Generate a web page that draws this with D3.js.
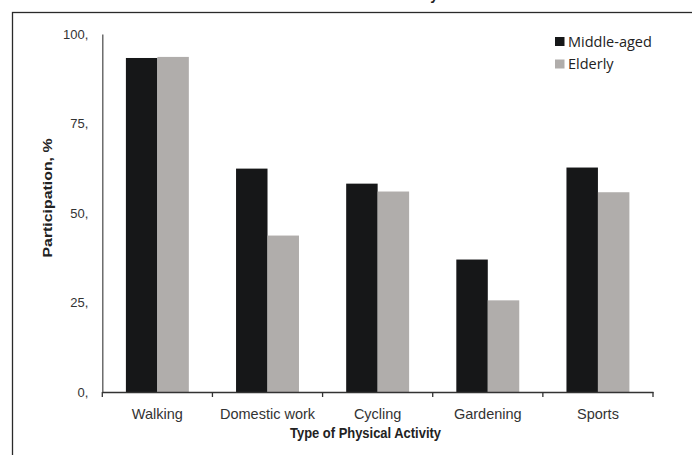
<!DOCTYPE html>
<html>
<head>
<meta charset="utf-8">
<script src="https://cdn.jsdelivr.net/npm/d3@7"></script>
<style>
  html, body { margin: 0; padding: 0; background: #fff; }
  svg { display: block; }
</style>
</head>
<body>
<script>
// Participation in physical activities by age group
const categories = ["Walking", "Domestic work", "Cycling", "Gardening", "Sports"];
const seriesNames = ["Middle-aged", "Elderly"];
const middleAged = [93.3, 62.4, 58.2, 37.0, 62.7];
const elderly = [93.6, 43.7, 56.0, 25.6, 55.8];
const yTicks = [0, 25, 50, 75, 100];
const yTickLabels = ["0,", "25,", "50,", "75,", "100,"];
const colors = ["#161718", "#b0adab"];

const W = 692, H = 455;
const svg = d3.select("body").append("svg").attr("width", W).attr("height", H);

// outer frame
svg.append("rect")
  .attr("x", 12.5).attr("y", 12.5)
  .attr("width", 800).attr("height", 600)
  .attr("fill", "none").attr("stroke", "#2a2a2a").attr("stroke-width", 1.3);

// heading partly above the frame
svg.append("text")
  .attr("x", 438).attr("y", 0)
  .attr("text-anchor", "end")
  .attr("font-family", "Liberation Sans, Arial, sans-serif")
  .attr("font-weight", "bold").attr("font-size", 14)
  .attr("fill", "#222")
  .text("Activity");

const plot = { left: 102.3, right: 653, top: 34, bottom: 392 };

const x0 = d3.scaleBand().domain(categories).range([plot.left, plot.right]).padding(0);
const x1 = d3.scaleBand().domain(seriesNames).range([0, x0.bandwidth()])
  .paddingInner(0).paddingOuter(0.75);
const y = d3.scaleLinear().domain([0, 100]).range([plot.bottom, plot.top]);

const data = categories.map((c, i) => ({ cat: c, vals: [middleAged[i], elderly[i]] }));

// bars
const groups = svg.append("g").selectAll("g").data(data).join("g")
  .attr("transform", d => `translate(${x0(d.cat)},0)`);
groups.selectAll("rect")
  .data(d => d.vals.map((v, j) => ({ key: seriesNames[j], v, j })))
  .join("rect")
  .attr("x", d => x1(d.key))
  .attr("y", d => y(d.v))
  .attr("width", x1.bandwidth())
  .attr("height", d => plot.bottom - y(d.v))
  .attr("fill", d => colors[d.j]);

// y axis
const yAxis = svg.append("g")
  .attr("transform", `translate(${plot.left},0)`)
  .call(d3.axisLeft(y).tickValues(yTicks).tickSize(0).tickPadding(14)
    .tickFormat((d, i) => yTickLabels[i]));
yAxis.select(".domain").attr("stroke", "#555").attr("stroke-width", 1.3);
yAxis.selectAll("text")
  .attr("font-family", "Liberation Sans, Arial, sans-serif")
  .attr("font-size", 13).attr("fill", "#333");

// x axis with ticks at category boundaries
const xAxis = svg.append("g")
  .attr("transform", `translate(0,${plot.bottom})`)
  .call(d3.axisBottom(x0).tickSize(0).tickPadding(17));
xAxis.select(".domain").attr("stroke", "#333").attr("stroke-width", 1.3);
xAxis.selectAll("text")
  .attr("font-family", "Liberation Sans, Arial, sans-serif")
  .attr("font-size", 14.5).attr("fill", "#333");
const edges = categories.map(c => x0(c)).concat([plot.right]);
xAxis.selectAll("line.edge").data(edges).join("line")
  .attr("class", "edge")
  .attr("x1", d => d).attr("x2", d => d)
  .attr("y1", 0).attr("y2", 5)
  .attr("stroke", "#333").attr("stroke-width", 1.3);

// axis titles
svg.append("text")
  .attr("x", 290).attr("y", 438)
  .attr("font-family", "Liberation Sans, Arial, sans-serif")
  .attr("font-weight", "bold").attr("font-size", 14)
  .attr("textLength", 151).attr("lengthAdjust", "spacingAndGlyphs")
  .attr("fill", "#222")
  .text("Type of Physical Activity");

svg.append("text")
  .attr("transform", "translate(52,198) rotate(-90)")
  .attr("text-anchor", "middle")
  .attr("font-family", "Liberation Sans, Arial, sans-serif")
  .attr("font-weight", "bold").attr("font-size", 13.5)
  .attr("textLength", 119).attr("lengthAdjust", "spacingAndGlyphs")
  .attr("fill", "#222")
  .text("Participation, %");

// legend
const legend = svg.append("g").selectAll("g").data(seriesNames).join("g")
  .attr("transform", (d, i) => `translate(555,${37 + i * 22.5})`);
legend.append("rect")
  .attr("width", 9.5).attr("height", 9)
  .attr("fill", (d, i) => colors[i]);
legend.append("text")
  .attr("x", 13).attr("y", 4.5)
  .attr("dy", "0.35em")
  .attr("font-family", "Open Sans, Noto Sans, sans-serif")
  .attr("font-size", 14.5).attr("fill", "#222")
  .text(d => d);
</script>
</body>
</html>
